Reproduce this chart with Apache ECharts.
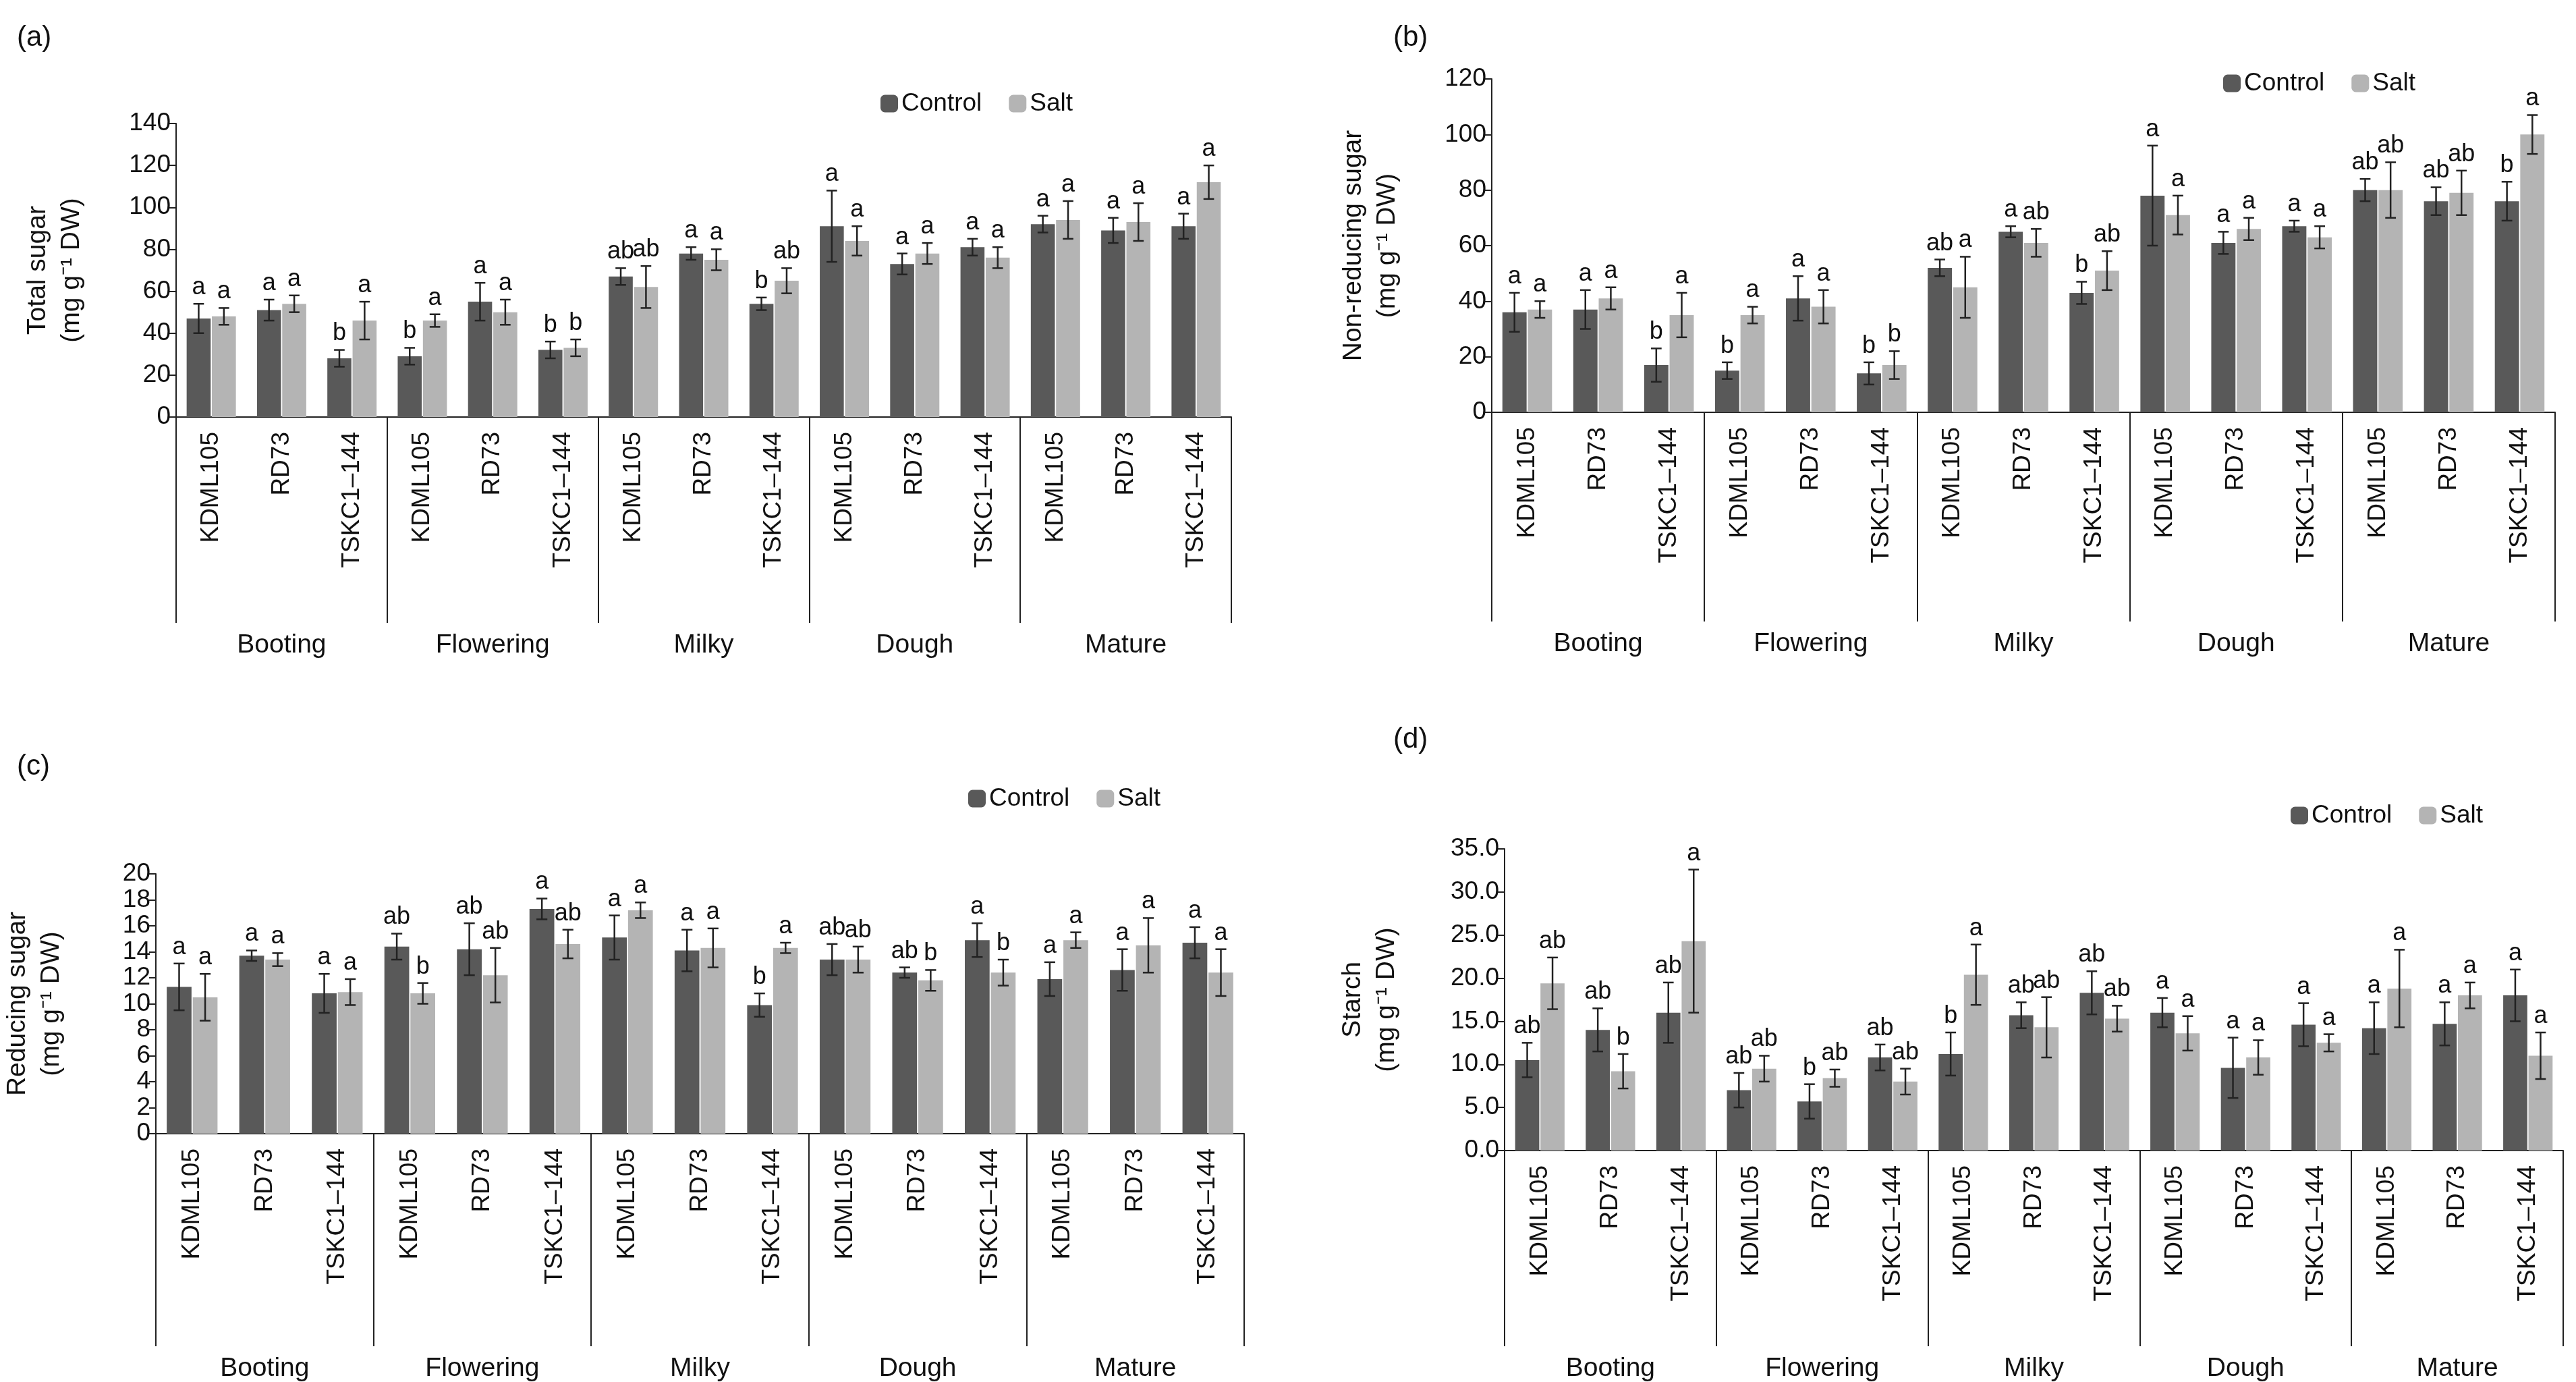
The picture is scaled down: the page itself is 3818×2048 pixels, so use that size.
<!DOCTYPE html>
<html>
<head>
<meta charset="UTF-8">
<title>Sugar panels</title>
<script src="https://cdn.jsdelivr.net/npm/echarts@6/dist/echarts.min.js"></script>
</head>
<body style="margin:0;background:#fff">
<div id="c" style="width:3818px;height:2048px"></div>
<script>
var cultivars = ['KDML105', 'RD73', 'TSKC1\u2013144'];
var stages = ['Booting', 'Flowering', 'Milky', 'Dough', 'Mature'];
var categories = [];
stages.forEach(function (s) { cultivars.forEach(function (c) { categories.push(s + '|' + c); }); });

// (a) total sugar
var aCtrl = [47, 51, 28, 29, 55, 32, 67, 78, 54, 91, 73, 81, 92, 89, 91];
var aSalt = [48, 54, 46, 46, 50, 33, 62, 75, 65, 84, 78, 76, 94, 93, 112];
var aCtrlErr = [7, 5, 4, 4, 9, 4, 4, 3, 3, 17, 5, 4, 4, 6, 6];
var aSaltErr = [4, 4, 9, 3, 6, 4, 10, 5, 6, 7, 5, 5, 9, 9, 8];
var aCtrlLet = ['a', 'a', 'b', 'b', 'a', 'b', 'ab', 'a', 'b', 'a', 'a', 'a', 'a', 'a', 'a'];
var aSaltLet = ['a', 'a', 'a', 'a', 'a', 'b', 'ab', 'a', 'ab', 'a', 'a', 'a', 'a', 'a', 'a'];
// (b) non-reducing sugar
var bCtrl = [36, 37, 17, 15, 41, 14, 52, 65, 43, 78, 61, 67, 80, 76, 76];
var bSalt = [37, 41, 35, 35, 38, 17, 45, 61, 51, 71, 66, 63, 80, 79, 100];
var bCtrlErr = [7, 7, 6, 3, 8, 4, 3, 2, 4, 18, 4, 2, 4, 5, 7];
var bSaltErr = [3, 4, 8, 3, 6, 5, 11, 5, 7, 7, 4, 4, 10, 8, 7];
var bCtrlLet = ['a', 'a', 'b', 'b', 'a', 'b', 'ab', 'a', 'b', 'a', 'a', 'a', 'ab', 'ab', 'b'];
var bSaltLet = ['a', 'a', 'a', 'a', 'a', 'b', 'a', 'ab', 'ab', 'a', 'a', 'a', 'ab', 'ab', 'a'];
// (c) reducing sugar
var cCtrl = [11.3, 13.7, 10.8, 14.4, 14.2, 17.3, 15.1, 14.1, 9.9, 13.4, 12.4, 14.9, 11.9, 12.6, 14.7];
var cSalt = [10.5, 13.4, 10.9, 10.8, 12.2, 14.6, 17.2, 14.3, 14.3, 13.4, 11.8, 12.4, 14.9, 14.5, 12.4];
var cCtrlErr = [1.8, 0.4, 1.5, 1, 2, 0.8, 1.7, 1.6, 0.9, 1.2, 0.4, 1.3, 1.3, 1.6, 1.2];
var cSaltErr = [1.8, 0.5, 1, 0.8, 2.1, 1.1, 0.6, 1.5, 0.4, 1, 0.8, 1, 0.6, 2.1, 1.8];
var cCtrlLet = ['a', 'a', 'a', 'ab', 'ab', 'a', 'a', 'a', 'b', 'ab', 'ab', 'a', 'a', 'a', 'a'];
var cSaltLet = ['a', 'a', 'a', 'b', 'ab', 'ab', 'a', 'a', 'a', 'ab', 'b', 'b', 'a', 'a', 'a'];
// (d) starch
var dCtrl = [10.5, 14, 16, 7, 5.7, 10.8, 11.2, 15.7, 18.3, 16, 9.6, 14.6, 14.2, 14.7, 18];
var dSalt = [19.4, 9.2, 24.3, 9.5, 8.4, 8, 20.4, 14.3, 15.3, 13.6, 10.8, 12.5, 18.8, 18, 11];
var dCtrlErr = [2, 2.5, 3.5, 2, 2, 1.5, 2.5, 1.5, 2.5, 1.7, 3.5, 2.5, 3, 2.5, 3];
var dSaltErr = [3, 2, 8.3, 1.5, 1, 1.5, 3.5, 3.5, 1.5, 2, 2, 1, 4.5, 1.5, 2.7];
var dCtrlLet = ['ab', 'ab', 'ab', 'ab', 'b', 'ab', 'b', 'ab', 'ab', 'a', 'a', 'a', 'a', 'a', 'a'];
var dSaltLet = ['ab', 'b', 'a', 'ab', 'ab', 'ab', 'a', 'ab', 'ab', 'a', 'a', 'a', 'a', 'a', 'a'];

var FONT = 'Liberation Sans, Arial';
var CTRL = '#595959', SALT = '#b4b4b4';
var panels = [
  { tag: '(a)', name: 'Total sugar\n(mg g\u207B\u00B9 DW)', max: 140, iv: 20, dec: 0,
    grid: { left: 261, top: 183, width: 1564, height: 435 }, sep: 305, legend: [1300, 130], tagPos: [20, 30],
    d: [aCtrl, aSalt, aCtrlErr, aSaltErr, aCtrlLet, aSaltLet] },
  { tag: '(b)', name: 'Non-reducing sugar\n(mg g\u207B\u00B9 DW)', max: 120, iv: 20, dec: 0,
    grid: { left: 2211, top: 117, width: 1576, height: 494 }, sep: 310, legend: [3290, 100], tagPos: [2060, 30],
    d: [bCtrl, bSalt, bCtrlErr, bSaltErr, bCtrlLet, bSaltLet] },
  { tag: '(c)', name: 'Reducing sugar\n(mg g\u207B\u00B9 DW)', max: 20, iv: 2, dec: 0,
    grid: { left: 200, top: 1295, width: 1644, height: 386 }, sep: 315, legend: [1430, 1160], tagPos: [20, 1110],
    d: [cCtrl, cSalt, cCtrlErr, cSaltErr, cCtrlLet, cSaltLet] },
  { tag: '(d)', name: 'Starch\n(mg g\u207B\u00B9 DW)', max: 35, iv: 5, dec: 1,
    grid: { left: 2230, top: 1258, width: 1569, height: 452 }, sep: 290, legend: [3390, 1185], tagPos: [2060, 1070],
    d: [dCtrl, dSalt, dCtrlErr, dSaltErr, dCtrlLet, dSaltLet] }
];

var option = { animation: false, grid: [], xAxis: [], yAxis: [], series: [], legend: [], title: [] };
var gap = 0.3, barGap = 0.05;

function errRender(side, values, errs, letters) {
  return function (params, api) {
    var i = api.value(0);
    var band = api.size([1, 0])[0];
    var w = band * (1 - gap) / (2 + barGap);
    var cx = api.coord([i, 0])[0] + side * (w / 2 + w * barGap / 2);
    var v = values[i], e = errs[i];
    var top = api.coord([i, v + e])[1];
    var bot = api.coord([i, Math.max(v - e, 0)])[1];
    var cap = w * 0.22;
    var st = { stroke: '#222', lineWidth: 2.5 };
    return { type: 'group', children: [
      { type: 'line', shape: { x1: cx, y1: top, x2: cx, y2: bot }, style: st },
      { type: 'line', shape: { x1: cx - cap, y1: top, x2: cx + cap, y2: top }, style: st },
      { type: 'line', shape: { x1: cx - cap, y1: bot, x2: cx + cap, y2: bot }, style: st },
      { type: 'text', x: cx, y: top - 6, style: { text: letters[i], fill: '#111', font: '36px ' + FONT, textAlign: 'center', textVerticalAlign: 'bottom' } }
    ] };
  };
}

panels.forEach(function (p, k) {
  option.grid.push(p.grid);
  option.title.push({ text: p.tag, left: p.tagPos[0], top: p.tagPos[1], textStyle: { fontSize: 42, fontWeight: 'normal', fontFamily: FONT, color: '#111' } });
  option.legend.push({ left: p.legend[0], top: p.legend[1], itemWidth: 26, itemHeight: 26, itemGap: 40,
    textStyle: { fontSize: 37, fontFamily: FONT, color: '#111' }, data: ['Control', 'Salt'] });
  option.xAxis.push({ type: 'category', gridIndex: k, data: categories,
    axisLine: { lineStyle: { color: '#222', width: 2 } },
    axisTick: { show: false },
    axisLabel: { rotate: 90, fontSize: 37, fontFamily: FONT, color: '#111', margin: 22,
      formatter: function (v) { return v.split('|')[1]; } } });
  option.xAxis.push({ type: 'category', gridIndex: k, data: stages, position: 'bottom', offset: p.sep,
    axisLine: { show: false },
    axisTick: { show: true, inside: true, length: p.sep, lineStyle: { color: '#222', width: 2 } },
    axisLabel: { fontSize: 39, fontFamily: FONT, color: '#111', margin: 14 } });
  option.yAxis.push({ type: 'value', gridIndex: k, min: 0, max: p.max, interval: p.iv,
    name: p.name, nameLocation: 'middle', nameGap: p.dec ? 150 : 130,
    nameTextStyle: { fontSize: 39, fontFamily: FONT, color: '#111', lineHeight: 50 },
    splitLine: { show: false },
    axisLine: { show: true, lineStyle: { color: '#222', width: 2 } },
    axisTick: { show: true, length: 10, lineStyle: { color: '#222', width: 2 } },
    axisLabel: { fontSize: 37, fontFamily: FONT, color: '#111',
      formatter: function (v) { return v.toFixed(p.dec); } } });
  var xi = k * 2;
  option.series.push({ name: 'Control', type: 'bar', xAxisIndex: xi, yAxisIndex: k, data: p.d[0],
    itemStyle: { color: CTRL }, barCategoryGap: (gap * 100) + '%', barGap: (barGap * 100) + '%' });
  option.series.push({ name: 'Salt', type: 'bar', xAxisIndex: xi, yAxisIndex: k, data: p.d[1],
    itemStyle: { color: SALT }, barCategoryGap: (gap * 100) + '%', barGap: (barGap * 100) + '%' });
  [[-1, 0, 2, 4], [1, 1, 3, 5]].forEach(function (s) {
    option.series.push({ type: 'custom', xAxisIndex: xi, yAxisIndex: k, z: 10,
      data: p.d[s[1]].map(function (v, i) { return [i, v]; }),
      encode: { x: 0, y: 1 },
      renderItem: errRender(s[0], p.d[s[1]], p.d[s[2]], p.d[s[3]]) });
  });
});

var chart = echarts.init(document.getElementById('c'));
chart.setOption(option);
</script>
</body>
</html>
